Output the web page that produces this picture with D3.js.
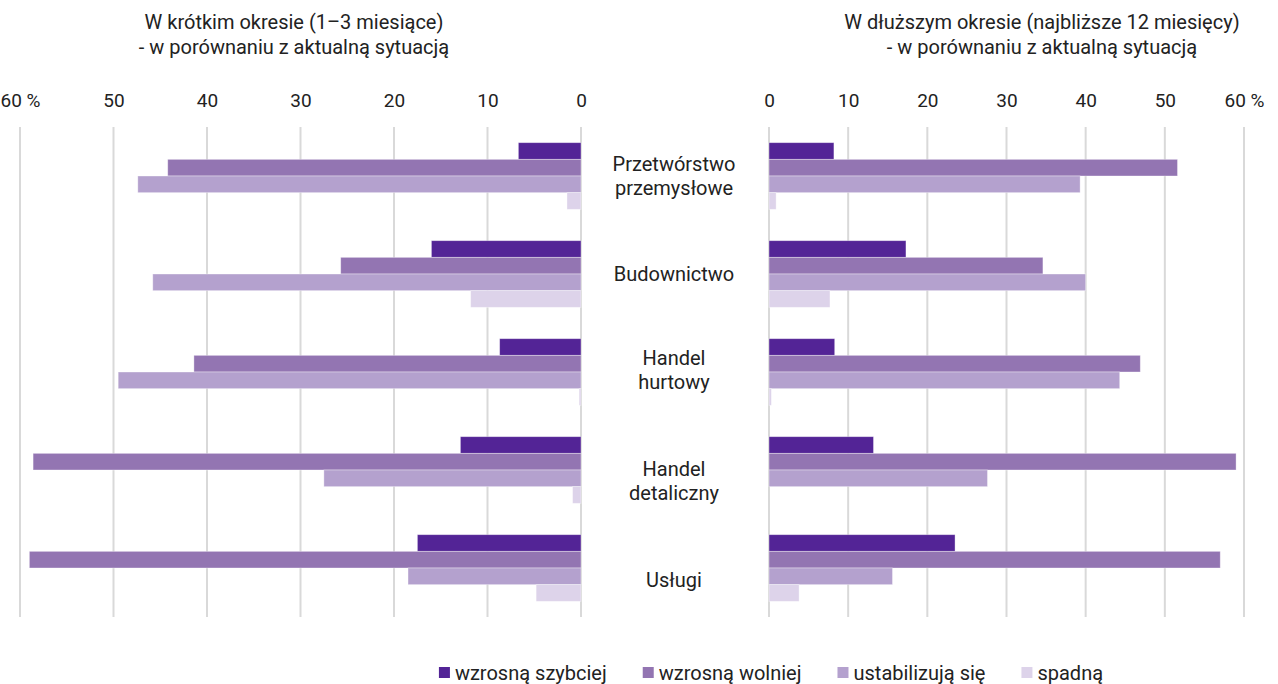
<!DOCTYPE html>
<html>

<head>
    <meta charset="utf-8">
    <title>d3</title>
    <style type="text/css">
    body {
        margin: 0;
        background: #fff;
    }

    svg text {
        font-family: Roboto, sans-serif;
        fill: #222;
    }

    .axis path,
    .axis line {
        display: none;
    }

    .axis text {
        font-size: 19px;
        fill: #222;
    }

    .grid line {
        stroke: #d9d9d9;
        stroke-width: 2px;
    }

    .title text {
        font-size: 20px;
    }

    .cat text {
        font-size: 20px;
    }

    .legend text {
        font-size: 20px;
    }
    </style>
</head>

<body>
    <script src="https://cdn.jsdelivr.net/npm/d3@7"></script>
    <script>
    var categories = [
        ["Przetwórstwo", "przemysłowe"],
        ["Budownictwo"],
        ["Handel", "hurtowy"],
        ["Handel", "detaliczny"],
        ["Usługi"]
    ];

    var seriesNames = ["wzrosną szybciej", "wzrosną wolniej", "ustabilizują się", "spadną"];

    // krótki okres (1-3 miesiące), one array per series, in category order
    var shortFast = [6.7, 16.0, 8.7, 12.9, 17.5];
    var shortSlow = [44.2, 25.7, 41.4, 58.6, 59.0];
    var shortStable = [47.4, 45.8, 49.5, 27.5, 18.5];
    var shortDown = [1.5, 11.8, 0.2, 0.9, 4.8];

    // dłuższy okres (12 miesięcy)
    var longFast = [8.2, 17.3, 8.3, 13.2, 23.5];
    var longSlow = [51.6, 34.6, 46.9, 59.0, 57.0];
    var longStable = [39.3, 40.0, 44.3, 27.6, 15.6];
    var longDown = [0.9, 7.7, 0.3, 0, 3.8];

    var ticks = [0, 10, 20, 30, 40, 50, 60];

    var titleLeft = ["W krótkim okresie (1–3 miesiące)", "- w porównaniu z aktualną sytuacją"];
    var titleRight = ["W dłuższym okresie (najbliższe 12 miesięcy)", "- w porównaniu z aktualną sytuacją"];

    var colors = ["#532496", "#9375b2", "#b4a1ce", "#ddd3ea"];

    var width = 1278,
        height = 684;

    // the middle labels in the original sit a little unevenly
    var labelNudge = [0, 0, -2, 11, 12];

    var svg = d3.select("body").append("svg")
        .attr("width", width)
        .attr("height", height);

    var xLeft = d3.scaleLinear().domain([0, 60]).range([581, 20]);
    var xRight = d3.scaleLinear().domain([0, 60]).range([769, 1244]);

    var y = d3.scaleBand()
        .domain(d3.range(categories.length))
        .range([127, 617]);

    var y1 = d3.scaleBand()
        .domain(d3.range(seriesNames.length))
        .range([y.bandwidth() * 0.16, y.bandwidth() * 0.84]);

    var color = d3.scaleOrdinal().domain(d3.range(4)).range(colors);

    var fmt = function(d) {
        return d === 60 ? "60 %" : d;
    };

    function panel(x, series, title, titleX) {
        svg.append("g")
            .attr("class", "grid")
            .selectAll("line")
            .data(ticks)
            .enter().append("line")
            .attr("x1", function(d) { return x(d); })
            .attr("x2", function(d) { return x(d); })
            .attr("y1", y.range()[0])
            .attr("y2", y.range()[1]);

        svg.append("g")
            .attr("class", "axis")
            .attr("transform", "translate(0,91)")
            .call(d3.axisTop(x).tickValues(ticks).tickFormat(fmt).tickSize(0))
            .selectAll("text")
            .attr("dy", "1em");

        var groups = svg.append("g").selectAll("g")
            .data(series)
            .enter().append("g")
            .attr("fill", function(d, i) { return color(i); });

        groups.selectAll("rect")
            .data(function(d, i) {
                return d.map(function(v, c) { return { s: i, c: c, v: v }; });
            })
            .enter().append("rect")
            .attr("x", function(d) { return Math.min(x(0), x(d.v)); })
            .attr("width", function(d) { return Math.abs(x(d.v) - x(0)); })
            .attr("y", function(d) { return y(d.c) + y1(d.s); })
            .attr("height", y1.bandwidth())
            .attr("stroke", "#fff")
            .attr("stroke-opacity", 0.45)
            .attr("stroke-width", 0.8);

        svg.append("g")
            .attr("class", "title")
            .selectAll("text")
            .data(title)
            .enter().append("text")
            .attr("x", titleX)
            .attr("y", function(d, i) { return 29 + i * 25; })
            .attr("text-anchor", "middle")
            .text(function(d) { return d; });
    }

    panel(xLeft, [shortFast, shortSlow, shortStable, shortDown], titleLeft, 294);
    panel(xRight, [longFast, longSlow, longStable, longDown], titleRight, 1042);

    // category labels in the middle
    var cat = svg.append("g")
        .attr("class", "cat")
        .selectAll("text")
        .data(categories)
        .enter().append("text")
        .attr("text-anchor", "middle")
        .attr("y", function(d, i) {
            return y(i) + y.bandwidth() / 2 + 7 - (d.length - 1) * 11.7 + labelNudge[i];
        });

    cat.selectAll("tspan")
        .data(function(d) { return d; })
        .enter().append("tspan")
        .attr("x", 674)
        .attr("dy", function(d, i) { return i ? 23.4 : 0; })
        .text(function(d) { return d; });

    // legend
    var legend = svg.append("g").attr("class", "legend");
    var lx = 0;
    seriesNames.forEach(function(name, i) {
        var g = legend.append("g").attr("transform", "translate(" + lx + ",0)");
        g.append("rect")
            .attr("x", 0)
            .attr("y", 667)
            .attr("width", 11)
            .attr("height", 11)
            .attr("fill", color(i));
        var t = g.append("text")
            .attr("x", 16)
            .attr("y", 680)
            .text(name);
        lx += 16 + t.node().getComputedTextLength() + 36;
    });
    var lw = lx - 36;
    legend.attr("transform", "translate(" + (771 - lw / 2) + ",0)");
    </script>
</body>

</html>
